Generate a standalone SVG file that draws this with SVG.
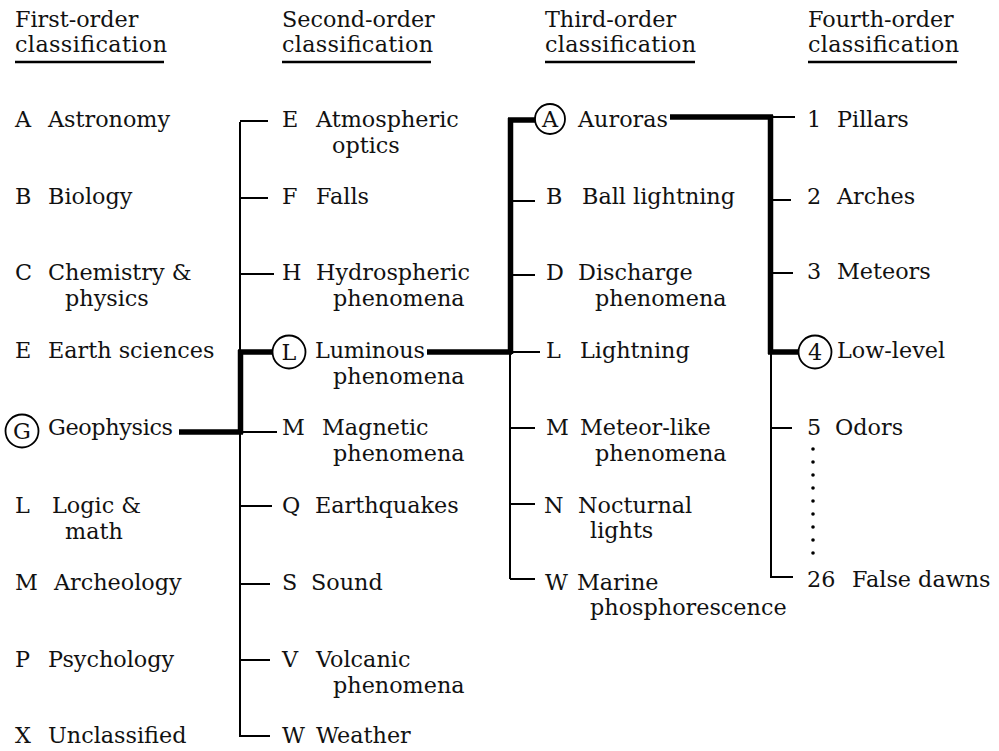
<svg xmlns="http://www.w3.org/2000/svg" width="999" height="751" viewBox="0 0 999 751">
<style>
text{font-family:"DejaVu Serif","Liberation Serif",serif;font-size:22.3px;fill:#111}
.thin{stroke:#000;stroke-width:2;fill:none}
.thick{stroke:#000;stroke-width:5.5;fill:none;stroke-linecap:butt}
.ul{stroke:#000;stroke-width:2.5}
.ring{fill:none;stroke:#000;stroke-width:1.8}
.dot{fill:#000}
</style>
<rect width="999" height="751" fill="#fff"/>

<g id="headers">
<text x="15" y="27">First-order</text><text x="15" y="52" textLength="152">classification</text><line class="ul" x1="15" y1="62" x2="164" y2="62"/>
<text x="282" y="27">Second-order</text><text x="282" y="52" textLength="151">classification</text><line class="ul" x1="282" y1="62" x2="431" y2="62"/>
<text x="545" y="27">Third-order</text><text x="545" y="52" textLength="151">classification</text><line class="ul" x1="545" y1="62" x2="695" y2="62"/>
<text x="808" y="27">Fourth-order</text><text x="808" y="52" textLength="151">classification</text><line class="ul" x1="808" y1="62" x2="957" y2="62"/>
</g>

<g id="connectors">
<line class="thin" x1="240" y1="122" x2="240" y2="737"/>
<line class="thin" x1="240" y1="121" x2="268" y2="121"/>
<line class="thin" x1="240" y1="198" x2="268" y2="198"/>
<line class="thin" x1="240" y1="274" x2="274" y2="274"/>
<line class="thin" x1="240" y1="432" x2="277" y2="432"/>
<line class="thin" x1="240" y1="506" x2="272" y2="506"/>
<line class="thin" x1="240" y1="584" x2="270" y2="584"/>
<line class="thin" x1="240" y1="660" x2="270" y2="660"/>
<line class="thin" x1="240" y1="736" x2="270" y2="736"/>
<line class="thick" x1="179" y1="432" x2="243" y2="432"/>
<line class="thick" x1="240.5" y1="434" x2="240.5" y2="350"/>
<line class="thick" x1="238" y1="352" x2="273" y2="352"/>
<line class="thin" x1="510" y1="120" x2="510" y2="579"/>
<line class="thick" x1="510.5" y1="118" x2="510.5" y2="354"/>
<line class="thick" x1="508" y1="120" x2="535" y2="120"/>
<line class="thick" x1="427" y1="352" x2="512" y2="352"/>
<line class="thin" x1="510" y1="352" x2="540" y2="352"/>
<line class="thin" x1="510" y1="201" x2="535" y2="201"/>
<line class="thin" x1="510" y1="275" x2="535" y2="275"/>
<line class="thin" x1="510" y1="428" x2="535" y2="428"/>
<line class="thin" x1="510" y1="504" x2="535" y2="504"/>
<line class="thin" x1="510" y1="579" x2="535" y2="579"/>
<line class="thin" x1="771" y1="117" x2="771" y2="578"/>
<line class="thick" x1="770.5" y1="115" x2="770.5" y2="354"/>
<line class="thick" x1="670" y1="117" x2="773" y2="117"/>
<line class="thin" x1="771" y1="117" x2="795" y2="117"/>
<line class="thin" x1="771" y1="200" x2="791" y2="200"/>
<line class="thin" x1="771" y1="273" x2="793" y2="273"/>
<line class="thick" x1="768" y1="352" x2="798" y2="352"/>
<line class="thin" x1="771" y1="428" x2="792" y2="428"/>
<line class="thin" x1="771" y1="577" x2="793" y2="577"/>
</g>

<g id="n1-A"><text x="15" y="127">A</text><text x="48" y="127">Astronomy</text></g>
<g id="n1-B"><text x="15" y="204">B</text><text x="48" y="204">Biology</text></g>
<g id="n1-C"><text x="15" y="280">C</text><text x="48" y="280">Chemistry &amp;</text><text x="65" y="306">physics</text></g>
<g id="n1-E"><text x="15" y="358">E</text><text x="48" y="358">Earth sciences</text></g>
<g id="n1-G"><circle class="ring" cx="22" cy="431" r="16.5"/><text x="22" y="439" text-anchor="middle">G</text><text x="48" y="435" textLength="125">Geophysics</text></g>
<g id="n1-L"><text x="15" y="513">L</text><text x="52" y="513">Logic &amp;</text><text x="65" y="539">math</text></g>
<g id="n1-M"><text x="15" y="590">M</text><text x="54" y="590">Archeology</text></g>
<g id="n1-P"><text x="15" y="667">P</text><text x="48" y="667">Psychology</text></g>
<g id="n1-X"><text x="15" y="743">X</text><text x="48" y="743">Unclassified</text></g>

<g id="n2-E"><text x="282" y="127">E</text><text x="316" y="127">Atmospheric</text><text x="332" y="153">optics</text></g>
<g id="n2-F"><text x="282" y="204">F</text><text x="316" y="204">Falls</text></g>
<g id="n2-H"><text x="282" y="280">H</text><text x="316" y="280">Hydrospheric</text><text x="333" y="306">phenomena</text></g>
<g id="n2-L"><circle class="ring" cx="289" cy="352" r="16.5"/><text x="289" y="360" text-anchor="middle">L</text><text x="315" y="358" textLength="110">Luminous</text><text x="333" y="384">phenomena</text></g>
<g id="n2-M"><text x="282" y="435">M</text><text x="322" y="435">Magnetic</text><text x="333" y="461">phenomena</text></g>
<g id="n2-Q"><text x="282" y="513">Q</text><text x="315" y="513">Earthquakes</text></g>
<g id="n2-S"><text x="282" y="590">S</text><text x="311" y="590">Sound</text></g>
<g id="n2-V"><text x="282" y="667">V</text><text x="316" y="667">Volcanic</text><text x="333" y="693">phenomena</text></g>
<g id="n2-W"><text x="282" y="743">W</text><text x="316" y="743">Weather</text></g>

<g id="n3-A"><circle class="ring" cx="550" cy="119" r="15"/><text x="550" y="127" text-anchor="middle">A</text><text x="578" y="127" textLength="90">Auroras</text></g>
<g id="n3-B"><text x="546" y="204">B</text><text x="582" y="204">Ball lightning</text></g>
<g id="n3-D"><text x="546" y="280">D</text><text x="578" y="280">Discharge</text><text x="595" y="306">phenomena</text></g>
<g id="n3-L"><text x="546" y="358">L</text><text x="580" y="358">Lightning</text></g>
<g id="n3-M"><text x="546" y="435">M</text><text x="580" y="435">Meteor-like</text><text x="595" y="461">phenomena</text></g>
<g id="n3-N"><text x="544" y="513">N</text><text x="578" y="513">Nocturnal</text><text x="590" y="538">lights</text></g>
<g id="n3-W"><text x="545" y="590">W</text><text x="577" y="590">Marine</text><text x="590" y="615">phosphorescence</text></g>

<g id="n4-1"><text x="807" y="127">1</text><text x="837" y="127">Pillars</text></g>
<g id="n4-2"><text x="807" y="204">2</text><text x="837" y="204">Arches</text></g>
<g id="n4-3"><text x="807" y="279">3</text><text x="837" y="279">Meteors</text></g>
<g id="n4-4"><circle class="ring" cx="815" cy="352" r="16.5"/><text x="815" y="360" text-anchor="middle">4</text><text x="837" y="358">Low-level</text></g>
<g id="n4-5"><text x="807" y="435">5</text><text x="835" y="435">Odors</text></g>
<g id="ellipsis">
<circle class="dot" cx="813" cy="449" r="1.8"/><circle class="dot" cx="813" cy="462" r="1.8"/><circle class="dot" cx="813" cy="475" r="1.8"/><circle class="dot" cx="813" cy="488" r="1.8"/><circle class="dot" cx="813" cy="501" r="1.8"/><circle class="dot" cx="813" cy="514" r="1.8"/><circle class="dot" cx="813" cy="527" r="1.8"/><circle class="dot" cx="813" cy="540" r="1.8"/><circle class="dot" cx="813" cy="553" r="1.8"/>
</g>
<g id="n4-26"><text x="807" y="587">26</text><text x="852" y="587">False dawns</text></g>
</svg>
